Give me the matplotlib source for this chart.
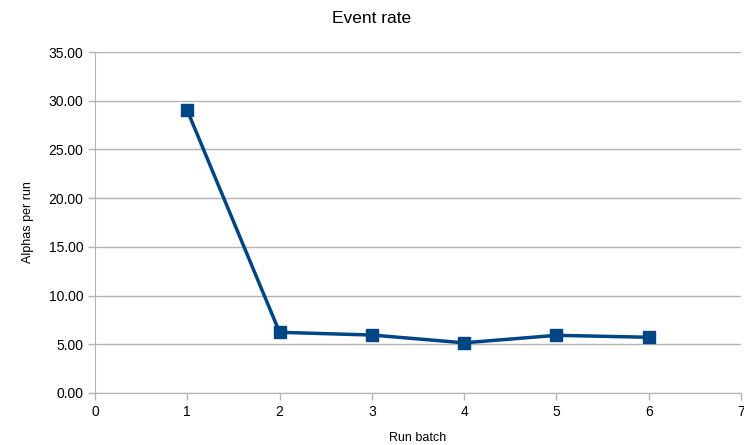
import matplotlib
matplotlib.use("Agg")
import matplotlib.pyplot as plt

run_batch = [1, 2, 3, 4, 5, 6]
alphas_per_run = [29.0, 6.23, 5.95, 5.15, 5.92, 5.72]
y_ticks = [0, 5, 10, 15, 20, 25, 30, 35]
x_ticks = [0, 1, 2, 3, 4, 5, 6, 7]

plt.rcParams['font.family'] = ['Liberation Sans', 'DejaVu Sans']
fig = plt.figure(figsize=(7.44, 4.45), dpi=100)
ax = fig.add_axes([95/744, 1-393/445, (741-95)/744, (393-52)/445])

ax.plot(run_batch, alphas_per_run, color='#004586', lw=2.5, marker='s', ms=8,
        markeredgecolor='#004586', zorder=3, clip_on=False)
ax.set_xlim(0, 7)
ax.set_ylim(0, 35)
ax.set_xticks(x_ticks)
ax.set_yticks(y_ticks)
ax.set_yticklabels([f"{v:.2f}" for v in y_ticks])
ax.grid(axis='y', color='#b3b3b3', lw=1)
ax.set_axisbelow(True)
for s in ['top', 'right']:
    ax.spines[s].set_visible(False)
for s in ['left', 'bottom']:
    ax.spines[s].set_color('#b3b3b3')
ax.tick_params(axis='both', colors='#b3b3b3', labelcolor='#000000', labelsize=10, length=5, width=1)
ax.tick_params(axis='x', pad=4)
ax.set_xlabel('Run batch', fontsize=9, labelpad=9)
ax.set_ylabel('Alphas per run', fontsize=9, labelpad=10)
fig.suptitle('Event rate', fontsize=12.5, y=0.975)
fig.savefig('out.png', dpi=100)
